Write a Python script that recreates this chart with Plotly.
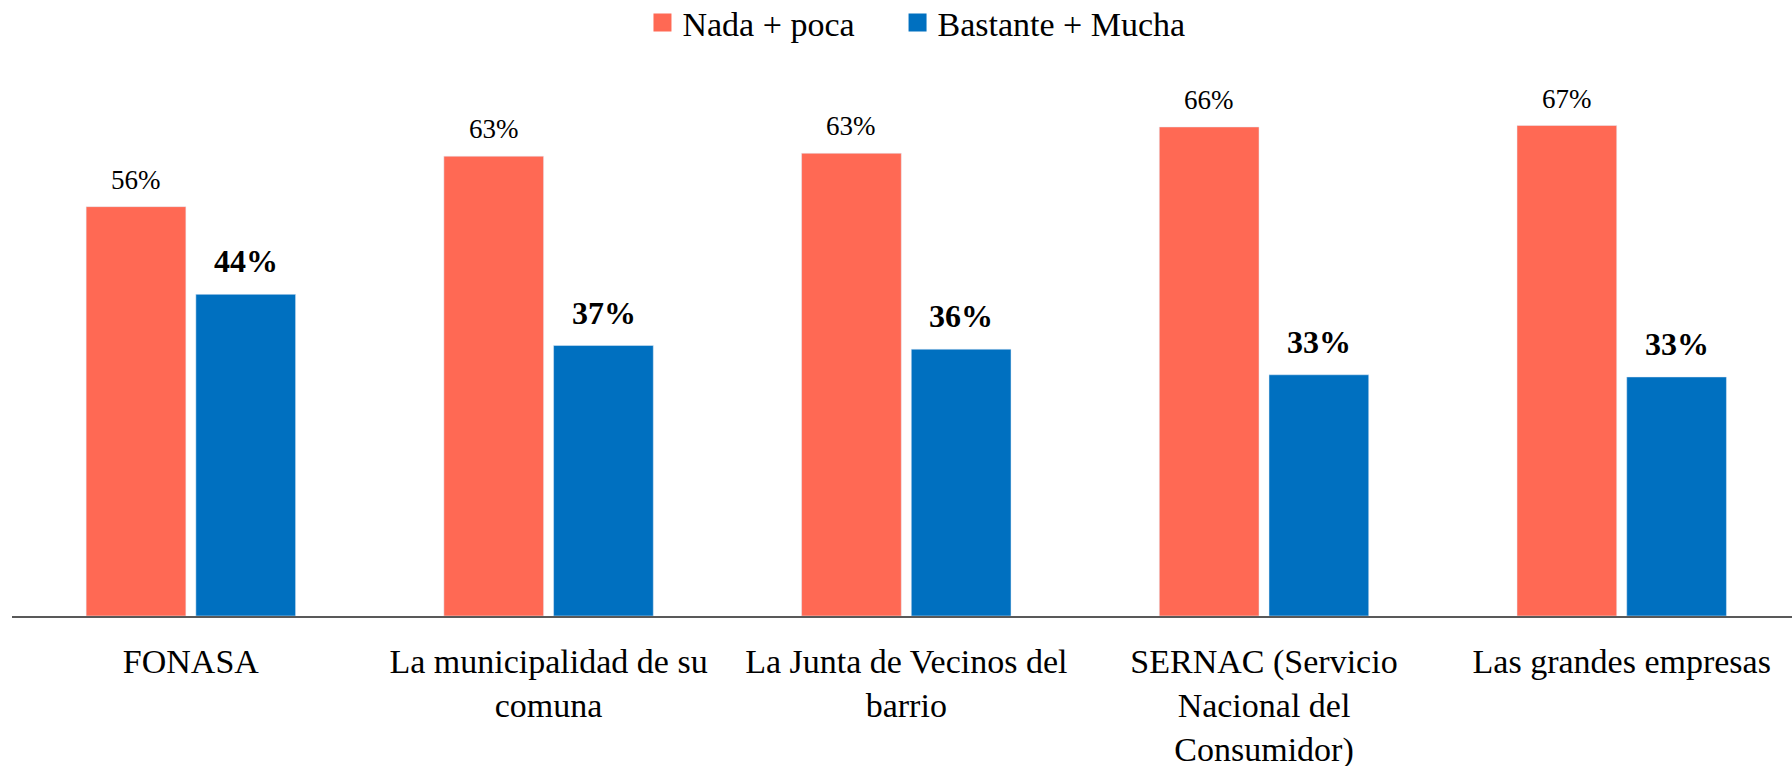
import plotly.graph_objects as go

categorias = ["FONASA", "La municipalidad de su comuna", "La Junta de Vecinos del barrio",
              "SERNAC (Servicio Nacional del Consumidor)", "Las grandes empresas"]
etiquetas_eje = ["FONASA", "La municipalidad de su<br>comuna", "La Junta de Vecinos del<br>barrio",
                 "SERNAC (Servicio<br>Nacional del<br>Consumidor)", "Las grandes empresas"]

nada_poca = [56, 62.9, 63.3, 66.9, 67.1]
bastante_mucha = [44, 37.0, 36.5, 33.0, 32.7]
txt_nada = ["56%", "63%", "63%", "66%", "67%"]
txt_bastante = ["44%", "37%", "36%", "33%", "33%"]

ROJO = "#FF6954"
AZUL = "#0070C0"
FUENTE = "Liberation Serif"

fig = go.Figure()
fig.add_trace(go.Bar(x=categorias, y=nada_poca, name="Nada + poca", marker_color=ROJO,
                     showlegend=False, hoverinfo="skip"))
fig.add_trace(go.Bar(x=categorias, y=bastante_mucha, name="Bastante + Mucha", marker_color=AZUL,
                     showlegend=False, hoverinfo="skip"))

# legend proxies (bigger squares than the default bar icon), one legend each
for nombre, color, leg in [("Nada + poca", ROJO, "legend"), ("Bastante + Mucha", AZUL, "legend2")]:
    fig.add_trace(go.Scatter(x=[None], y=[None], mode="markers", name=nombre, legend=leg,
                             marker=dict(symbol="square", size=18, color=color,
                                         line=dict(width=2, color=color))))

# value labels above the bars
for cat, v, t in zip(categorias, nada_poca, txt_nada):
    fig.add_annotation(x=cat, y=v, text=t, showarrow=False, xshift=-55, yshift=10,
                       yanchor="bottom", font=dict(family=FUENTE, size=27, color="#000"))
for cat, v, t in zip(categorias, bastante_mucha, txt_bastante):
    fig.add_annotation(x=cat, y=v, text="<b>" + t + "</b>", showarrow=False, xshift=55, yshift=13,
                       yanchor="bottom", font=dict(family=FUENTE, size=32, color="#000"))

leg_common = dict(orientation="h", xanchor="left", y=1, yanchor="top",
                  font=dict(family=FUENTE, size=34), itemwidth=30, bgcolor="rgba(0,0,0,0)")
fig.update_layout(
    width=1792, height=772,
    barmode="group", bargap=0.3866, bargroupgap=0.091,
    plot_bgcolor="white", paper_bgcolor="white",
    margin=dict(l=12, r=0, t=0, b=150),
    font=dict(family=FUENTE, size=34, color="#000"),
    legend=dict(x=0.3542, **leg_common),
    legend2=dict(x=0.4975, **leg_common),
)
fig.update_xaxes(range=[-0.5, 4.476], tickvals=categorias, ticktext=etiquetas_eje,
                 showline=True, linecolor="#595959", linewidth=2, automargin=False,
                 ticks="outside", ticklen=14, tickcolor="rgba(0,0,0,0)",
                 tickfont=dict(family=FUENTE, size=34))
fig.update_yaxes(domain=[0, 0.89389], range=[0, 76.06], visible=False,
                 showgrid=False, zeroline=False, automargin=False)

# body margin removed, figure nudged up a little so the legend sits near the top edge
fig.write_html("out.html", config={"displayModeBar": False},
               post_script="document.body.style.margin='-6px 0 0 0';")
